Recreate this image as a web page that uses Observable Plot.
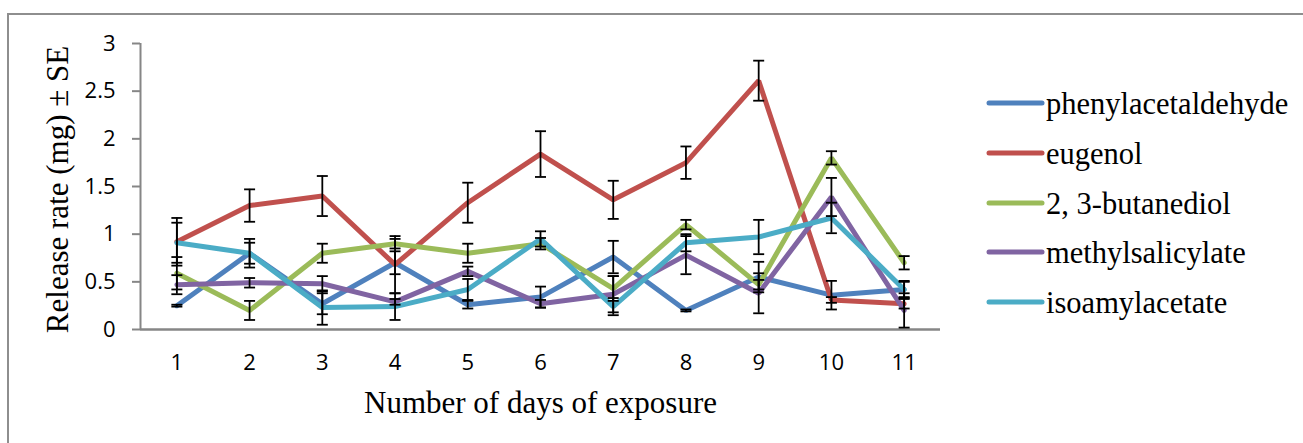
<!DOCTYPE html>
<html>
<head>
<meta charset="utf-8">
<script src="https://cdn.jsdelivr.net/npm/d3@7"></script>
<script src="https://cdn.jsdelivr.net/npm/@observablehq/plot@0.6"></script>
<style>
  html, body { margin: 0; padding: 0; background: #fff; }
  #wrap { position: relative; width: 1303px; height: 443px; overflow: hidden; background: #fff; }
  #frame { position: absolute; left: 7px; top: 13px; width: 1400px; height: 600px;
           border-left: 2px solid #8e8e8e; border-top: 2px solid #8e8e8e; box-sizing: border-box; }
  #chart { position: absolute; left: 0; top: 0; }
  #legend { position: absolute; left: 0; top: 0; }
</style>
</head>
<body>
<div id="wrap">
  <div id="frame"></div>
  <div id="chart"></div>
  <div id="legend"></div>
</div>
<script>
// ---- data ----
const days = [1, 2, 3, 4, 5, 6, 7, 8, 9, 10, 11];
const yTicks = [0, 0.5, 1, 1.5, 2, 2.5, 3];
const seriesNames = ["phenylacetaldehyde", "eugenol", "2, 3-butanediol", "methylsalicylate", "isoamylacetate"];
const seriesColors = ["#4F81BD", "#C0504D", "#9BBB59", "#8064A2", "#4BACC6"];

const phenylacetaldehyde   = [0.25, 0.80, 0.27, 0.70, 0.26, 0.34, 0.76, 0.20, 0.55, 0.36, 0.42];
const phenylacetaldehydeSE = [0.01, 0.15, 0.11, 0.12, 0.04, 0.11, 0.17, 0.01, 0.16, 0.15, 0.09];
const eugenol   = [0.92, 1.30, 1.40, 0.68, 1.33, 1.84, 1.36, 1.75, 2.61, 0.31, 0.27];
const eugenolSE = [0.25, 0.17, 0.21, 0.30, 0.21, 0.24, 0.20, 0.17, 0.21, 0.03, 0.05];
const butanediol   = [0.59, 0.20, 0.80, 0.90, 0.80, 0.90, 0.43, 1.10, 0.47, 1.80, 0.70];
const butanediolSE = [0.17, 0.10, 0.10, 0.05, 0.10, 0.06, 0.13, 0.05, 0.05, 0.07, 0.07];
const methylsalicylate   = [0.47, 0.49, 0.48, 0.29, 0.61, 0.27, 0.37, 0.78, 0.38, 1.39, 0.20];
const methylsalicylateSE = [0.10, 0.05, 0.08, 0.03, 0.05, 0.04, 0.19, 0.20, 0.21, 0.20, 0.18];
const isoamylacetate   = [0.91, 0.80, 0.23, 0.24, 0.42, 0.95, 0.24, 0.91, 0.97, 1.17, 0.42];
const isoamylacetateSE = [0.21, 0.11, 0.18, 0.14, 0.11, 0.08, 0.09, 0.09, 0.18, 0.16, 0.08];

const seriesValues = [phenylacetaldehyde, eugenol, butanediol, methylsalicylate, isoamylacetate];
const seriesSE = [phenylacetaldehydeSE, eugenolSE, butanediolSE, methylsalicylateSE, isoamylacetateSE];

// ---- long table ----
const rows = [];
seriesNames.forEach((name, si) => {
  days.forEach((day, di) => {
    rows.push({series: name, day, value: seriesValues[si][di], se: seriesSE[si][di]});
  });
});

const capSymbol = {
  draw(ctx) { ctx.moveTo(-5.5, 0); ctx.lineTo(5.5, 0); }
};

const serif = "'Liberation Serif', 'Times New Roman', serif";
const sans = "'Open Sans', 'Liberation Sans', sans-serif";

const chart = Plot.plot({
  width: 1303,
  height: 443,
  marginLeft: 140,
  marginRight: 363,
  marginTop: 43,
  marginBottom: 114,
  style: {background: "transparent", overflow: "visible"},
  x: {domain: [0.5, 11.5], axis: null},
  y: {domain: [0, 3], axis: null},
  color: {domain: seriesNames, range: seriesColors},
  marks: [
    Plot.axisY({ticks: yTicks, tickFormat: d => String(d), tickSize: 8, tickPadding: 17,
                stroke: "#868686", strokeWidth: 2, fill: "#000", fontSize: 22, fontFamily: sans, label: null}),
    Plot.axisX({ticks: days, tickFormat: d => String(d), tickSize: 0, tickPadding: 25,
                fill: "#000", fontSize: 22, fontFamily: sans, label: null}),
    Plot.ruleX([0.5], {stroke: "#868686", strokeWidth: 2}),
    Plot.ruleY([0], {stroke: "#868686", strokeWidth: 2.5}),
    Plot.line(rows, {x: "day", y: "value", z: "series", stroke: "series",
                     strokeWidth: 5, strokeLinejoin: "miter", strokeLinecap: "round"}),
    Plot.ruleX(rows, {x: "day", y1: d => d.value - d.se, y2: d => d.value + d.se,
                      stroke: "#000", strokeWidth: 1.8}),
    Plot.dot(rows, {x: "day", y: d => d.value + d.se, symbol: capSymbol, stroke: "#000", fill: "none", strokeWidth: 1.8}),
    Plot.dot(rows, {x: "day", y: d => d.value - d.se, symbol: capSymbol, stroke: "#000", fill: "none", strokeWidth: 1.8}),
    Plot.text(["Release rate (mg) ± SE"], {frameAnchor: "left", textAnchor: "middle", rotate: -90, dx: -82, dy: 3,
                      lineAnchor: "middle", fontSize: 31, fontFamily: serif, fill: "#000"}),
    Plot.text(["Number of days of exposure"], {frameAnchor: "bottom", textAnchor: "middle", dy: 74,
                      lineAnchor: "middle", fontSize: 31, fontFamily: serif, fill: "#000"})
  ]
});
document.getElementById("chart").appendChild(chart);

// ---- legend ----
const legendRowY = [103, 153, 203, 252, 302];
const leg = d3.select("#legend").append("svg").attr("width", 1303).attr("height", 443);
seriesNames.forEach((name, i) => {
  const g = leg.append("g");
  g.append("line").attr("x1", 989).attr("x2", 1042).attr("y1", legendRowY[i]).attr("y2", legendRowY[i])
    .attr("stroke", seriesColors[i]).attr("stroke-width", 5).attr("stroke-linecap", "round");
  g.append("text").attr("x", 1046).attr("y", legendRowY[i] + 11)
    .attr("font-family", serif).attr("font-size", 30.5).attr("fill", "#000").text(name);
});
</script>
</body>
</html>
